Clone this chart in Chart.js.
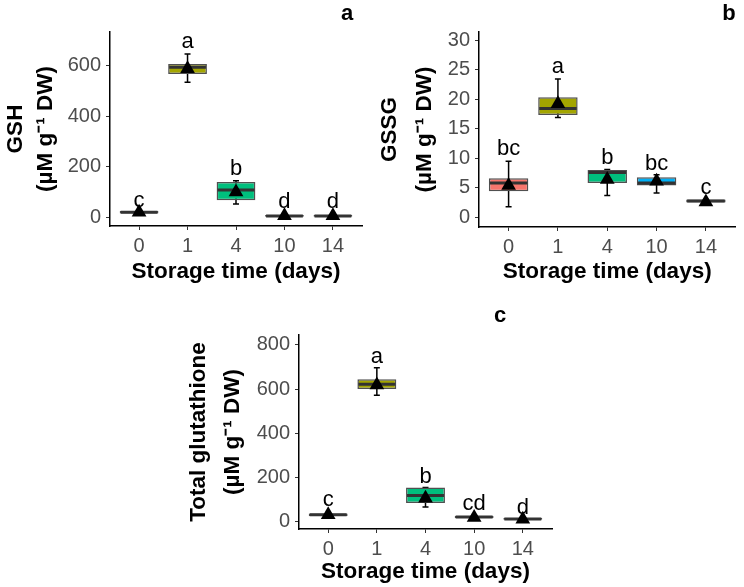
<!DOCTYPE html>
<html>
<head>
<meta charset="utf-8">
<script src="https://cdn.jsdelivr.net/npm/chart.js@4.4.1/dist/chart.umd.min.js"></script>
<style>
  body { margin: 0; background: #fff; }
  #wrap { position: relative; width: 744px; height: 587px; }
  canvas { position: absolute; }
</style>
</head>
<body>
<div id="wrap">
  <canvas id="chartA" width="372" height="300" style="left:0;top:0"></canvas>
  <canvas id="chartB" width="372" height="300" style="left:372px;top:0"></canvas>
  <canvas id="chartC" width="400" height="297" style="left:180px;top:290px"></canvas>
</div>
<script>
const days = ['0', '1', '4', '10', '14'];
const boxColors = ['#F8766D', '#A3A500', '#00BF7D', '#00B0F6', '#E76BF3'];

// a: GSH
const gshQ1 = [15, 567, 68, 3, 3];
const gshMedian = [20, 594, 108, 6, 6];
const gshQ3 = [25, 606, 140, 9, 9];
const gshMean = [20, 588, 100, 7, 7];
const gshWhiskerLow = [14, 534, 53, 2, 2];
const gshWhiskerHigh = [27, 646, 145, 11, 11];
const gshLetters = ['c', 'a', 'b', 'd', 'd'];
const gshLetterY = [42, 669, 167, 37, 37];
const gshTicks = [0, 200, 400, 600];

// b: GSSG
const gssgQ1 = [4.4, 17.3, 5.8, 5.4, 2.5];
const gssgMedian = [5.8, 18.4, 7.6, 5.8, 2.75];
const gssgQ3 = [6.6, 20.3, 8.0, 6.8, 3.0];
const gssgMean = [5.4, 19.2, 6.4, 6.1, 2.6];
const gssgWhiskerLow = [1.8, 16.9, 3.7, 4.1, 2.5];
const gssgWhiskerHigh = [9.5, 23.4, 8.1, 7.2, 3.0];
const gssgLetters = ['bc', 'a', 'b', 'bc', 'c'];
const gssgLetterY = [10.5, 24.4, 9.1, 8.0, 3.9];
const gssgTicks = [0, 5, 10, 15, 20, 25, 30];

// c: total glutathione
const totQ1 = [24, 600, 83, 15, 7];
const totMedian = [30, 622, 118, 20, 11];
const totQ3 = [36, 644, 154, 24, 15];
const totMean = [30, 618, 105, 18, 10];
const totWhiskerLow = [24, 572, 65, 15, 6];
const totWhiskerHigh = [38, 697, 154, 26, 17];
const totLetters = ['c', 'a', 'b', 'cd', 'd'];
const totLetterY = [68, 719, 176, 53, 35];
const totTicks = [0, 200, 400, 600, 800];

Chart.defaults.font.family = '"Liberation Sans", Arial, sans-serif';

// medians, whiskers, group letters and panel tag
const boxExtras = {
    id: 'boxExtras',
    beforeDatasetsDraw(chart, args, opts) {
        const {ctx, scales: {x, y}} = chart;
        ctx.save();
        ctx.strokeStyle = '#000';
        ctx.lineWidth = 1.5;
        opts.low.forEach((lo, i) => {
            const px = x.getPixelForValue(i);
            const y1 = y.getPixelForValue(lo);
            const y2 = y.getPixelForValue(opts.high[i]);
            ctx.beginPath();
            ctx.moveTo(px, y1); ctx.lineTo(px, y2);
            ctx.moveTo(px - 3, y1); ctx.lineTo(px + 3, y1);
            ctx.moveTo(px - 3, y2); ctx.lineTo(px + 3, y2);
            ctx.stroke();
        });
        ctx.restore();
    },
    afterDatasetDraw(chart, args, opts) {
        if (args.meta.type !== 'bar') return;
        const {ctx, scales: {y}} = chart;
        ctx.save();
        ctx.strokeStyle = '#333';
        ctx.lineWidth = 3;
        args.meta.data.forEach((bar, i) => {
            const py = y.getPixelForValue(opts.median[i]);
            ctx.beginPath();
            ctx.moveTo(bar.x - bar.width / 2 + 1, py);
            ctx.lineTo(bar.x + bar.width / 2 - 1, py);
            ctx.stroke();
        });
        ctx.restore();
    },
    afterDatasetsDraw(chart, args, opts) {
        const {ctx, scales: {x, y}} = chart;
        ctx.save();
        ctx.fillStyle = '#000';
        ctx.textAlign = 'center';
        ctx.textBaseline = 'alphabetic';
        ctx.font = '22px "Liberation Sans", Arial, sans-serif';
        opts.letters.forEach((t, i) => {
            ctx.fillText(t, x.getPixelForValue(i), y.getPixelForValue(opts.letterY[i]));
        });
        ctx.textBaseline = 'middle';
        ctx.font = 'bold 22px "Liberation Sans", Arial, sans-serif';
        ctx.fillText(opts.tag.text, opts.tag.x, opts.tag.y);
        ctx.restore();
    }
};

function buildPanel(canvasId, p) {
    const canvas = document.getElementById(canvasId);
    const tickFont = {size: 20};
    return new Chart(canvas, {
        type: 'bar',
        data: {
            datasets: [
                {
                    type: 'scatter',
                    data: p.mean.map((v, i) => ({x: i, y: v})),
                    pointStyle: 'triangle',
                    pointRadius: 8.5,
                    backgroundColor: '#000',
                    borderColor: '#000',
                    borderWidth: 0,
                    order: 0
                },
                {
                    type: 'bar',
                    data: p.q1.map((v, i) => ({x: i, y: [v, p.q3[i]]})),
                    backgroundColor: boxColors,
                    borderColor: '#505050',
                    borderWidth: 1.5,
                    borderSkipped: false,
                    barPercentage: 0.8,
                    categoryPercentage: 1,
                    order: 1
                }
            ]
        },
        options: {
            responsive: false,
            animation: false,
            events: [],
            layout: {
                padding: {left: 0, top: p.area.top, right: canvas.width - p.area.right, bottom: 0}
            },
            scales: {
                x: {
                    type: 'linear',
                    offset: false,
                    min: -0.6,
                    max: 4.6,
                    afterBuildTicks: scale => { scale.ticks = days.map((d, i) => ({value: i})); },
                    afterFit: scale => { scale.height = canvas.height - p.area.bottom; },
                    ticks: {
                        callback: v => days[v],
                        autoSkip: false,
                        maxRotation: 0,
                        font: tickFont,
                        color: '#4D4D4D',
                        padding: 4
                    },
                    grid: {offset: false, drawOnChartArea: false, drawTicks: true, tickLength: 4, color: '#333'},
                    border: {display: true, color: '#000', width: 1.5},
                    title: {
                        display: true,
                        text: 'Storage time (days)',
                        font: {size: 22.5, weight: 'bold'},
                        color: '#000',
                        padding: {top: 0, bottom: p.xTitlePad}
                    }
                },
                y: {
                    type: 'linear',
                    min: p.yMin,
                    max: p.yMax,
                    afterBuildTicks: scale => { scale.ticks = p.yTicks.map(v => ({value: v})); },
                    afterFit: scale => { scale.width = p.area.left; },
                    ticks: {font: tickFont, color: '#4D4D4D', padding: 5},
                    grid: {drawOnChartArea: false, drawTicks: true, tickLength: 4, color: '#333'},
                    border: {display: true, color: '#000', width: 1.5},
                    title: {
                        display: true,
                        text: p.yTitle,
                        font: {size: 22.5, weight: 'bold', lineHeight: p.yTitleLine},
                        color: '#000',
                        padding: {top: p.yTitlePad, bottom: 0}
                    }
                }
            },
            plugins: {
                legend: {display: false},
                tooltip: {enabled: false},
                boxExtras: {
                    median: p.median,
                    low: p.low,
                    high: p.high,
                    letters: p.letters,
                    letterY: p.letterY,
                    tag: p.tag
                }
            }
        },
        plugins: [boxExtras]
    });
}

buildPanel('chartA', {
    q1: gshQ1, q3: gshQ3, median: gshMedian, mean: gshMean,
    low: gshWhiskerLow, high: gshWhiskerHigh,
    letters: gshLetters, letterY: gshLetterY,
    yTicks: gshTicks, yMin: -34, yMax: 733,
    yTitle: ['GSH', '(µM g⁻¹ DW)'],
    area: {left: 110, top: 32, right: 362, bottom: 226},
    yTitlePad: 1, yTitleLine: '30px', xTitlePad: 15,
    tag: {text: 'a', x: 347, y: 14}
});

buildPanel('chartB', {
    q1: gssgQ1, q3: gssgQ3, median: gssgMedian, mean: gssgMean,
    low: gssgWhiskerLow, high: gssgWhiskerHigh,
    letters: gssgLetters, letterY: gssgLetterY,
    yTicks: gssgTicks, yMin: -1.64, yMax: 31.36,
    yTitle: ['GSSG', '(µM g⁻¹ DW)'],
    area: {left: 107, top: 32, right: 370, bottom: 227},
    yTitlePad: 0, yTitleLine: '35px', xTitlePad: 15,
    tag: {text: 'b', x: 357, y: 14}
});

buildPanel('chartC', {
    q1: totQ1, q3: totQ3, median: totMedian, mean: totMean,
    low: totWhiskerLow, high: totWhiskerHigh,
    letters: totLetters, letterY: totLetterY,
    yTicks: totTicks, yMin: -34.4, yMax: 845,
    yTitle: ['Total glutathione', '(µM g⁻¹ DW)'],
    area: {left: 119, top: 45, right: 372, bottom: 239},
    yTitlePad: 2, yTitleLine: '34px', xTitlePad: 2,
    tag: {text: 'c', x: 320, y: 26}
});
</script>
</body>
</html>
